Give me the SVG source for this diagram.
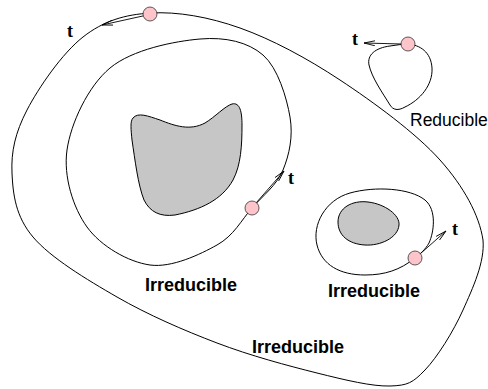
<svg xmlns="http://www.w3.org/2000/svg" width="488" height="389" viewBox="0 0 488 389">
<style>
.curve{fill:none;stroke:#000;stroke-width:1}
.hole{fill:#c6c6c6;stroke:#000;stroke-width:1}
.pt{fill:#fdc5c9;stroke:#333;stroke-width:0.8}
.arr{stroke:#000;stroke-width:0.9;fill:none;marker-end:url(#ah)}
.t{font-family:"Liberation Serif",serif;font-weight:bold;font-size:18px;fill:#000}
.lbl{font-family:"Liberation Sans",Arial,sans-serif;font-weight:bold;font-size:18px;fill:#000}
.lblr{font-family:"Liberation Sans",Arial,sans-serif;font-size:17.5px;fill:#000}
</style>
<defs>
<marker id="ah" viewBox="0 0 12 6" refX="11" refY="3" markerWidth="12" markerHeight="6" markerUnits="userSpaceOnUse" orient="auto">
<path d="M0,0.5 L11,3 L0,5.5" fill="none" stroke="#000" stroke-width="0.9"/>
</marker>
</defs>
<g id="outer">
<path class="curve" d="M151,13 C177.2,11.5 208.5,16.8 240,28 C271.5,39.2 306.7,58 340,80 C373.3,102 416.2,133.3 440,160 C463.8,186.7 479.2,215 483,240 C485,262 472.7,288.3 463,310 C453.3,331.7 437.2,357.3 425,370 C412.8,382.7 408,385.5 390,386 C372,386.5 345.8,380.2 317,373 C288.2,365.8 250.3,355.7 217,343 C183.7,330.3 147.7,314.7 117,297 C86.3,279.3 50.5,257.7 33,237 C15.5,216.3 13,194.2 12,173 C11,151.8 15.2,132.7 27,110 C38.8,87.3 62.3,53.2 83,37 C103.7,20.8 124.8,14.5 151,13 Z"/>
</g>
<g id="inner-big">
<path class="curve" d="M252,208 C241,220.5 234,235.5 217,245 C200,254.5 171.7,268 150,265 C128.3,262 100.8,246.2 87,227 C73.2,207.8 63.2,176.5 67,150 C70.8,123.5 87.8,86.5 110,68 C132.2,49.5 174.5,41.2 200,39 C225.5,36.8 248,42 263,55 C278,68 286.7,97.8 290,117 C293.3,136.2 289.3,154.8 283,170 C276.7,185.2 263,195.5 252,208 Z"/>
<path class="hole" d="M133,118 C138,112 148,116 160,120 C175,126 190,131 205,123 C215,117 225,106 232,104 C240,102 242,112 242,125 C242,145 241,165 233,180 C222,200 200,210 175,215 C160,217 150,212 144,200 C138,185 135,160 132,140 C131,130 130,121 133,118 Z"/>
</g>
<g id="inner-small">
<path class="curve" d="M415,258 C400,270 385,275 365,275 C340,275 322,265 317,245 C312,225 325,200 350,193 C375,186 410,188 425,200 C437,210 434,232 429,243 C425,250 420,254 415,258 Z"/>
<path class="hole" d="M338,222 C338,208 352,200 368,202 C385,204 400,215 399,225 C398,238 380,246 365,245 C348,244 338,235 338,222 Z"/>
</g>
<g id="reducible">
<path class="curve" d="M408,44 C420,45 431,52 432,68 C433,85 420,100 405,107 C398,111 393,110 390,105 C382,92 372,78 369,65 C367,55 375,48 390,46 C397,45 403,44 408,44 Z"/>
</g>
<g id="connectors">
<line class="arr" x1="145" y1="15.5" x2="102" y2="25"/>
<line class="arr" x1="402" y1="44" x2="364" y2="43"/>
<line class="arr" x1="256" y1="203" x2="284" y2="171"/>
<line class="arr" x1="420" y1="254" x2="446" y2="231"/>
</g>
<g id="points">
<circle class="pt" cx="150" cy="14" r="7"/>
<circle class="pt" cx="408" cy="44" r="7"/>
<circle class="pt" cx="252" cy="208" r="7"/>
<circle class="pt" cx="415" cy="258" r="7"/>
</g>
<g id="labels">
<text class="t" x="67" y="37">t</text>
<text class="t" x="352" y="45">t</text>
<text class="t" x="288" y="184">t</text>
<text class="t" x="452" y="235">t</text>
<text class="lbl" x="145" y="291">Irreducible</text>
<text class="lbl" x="328" y="297">Irreducible</text>
<text class="lbl" x="252" y="353">Irreducible</text>
<text class="lblr" x="410" y="126">Reducible</text>
</g>
</svg>
